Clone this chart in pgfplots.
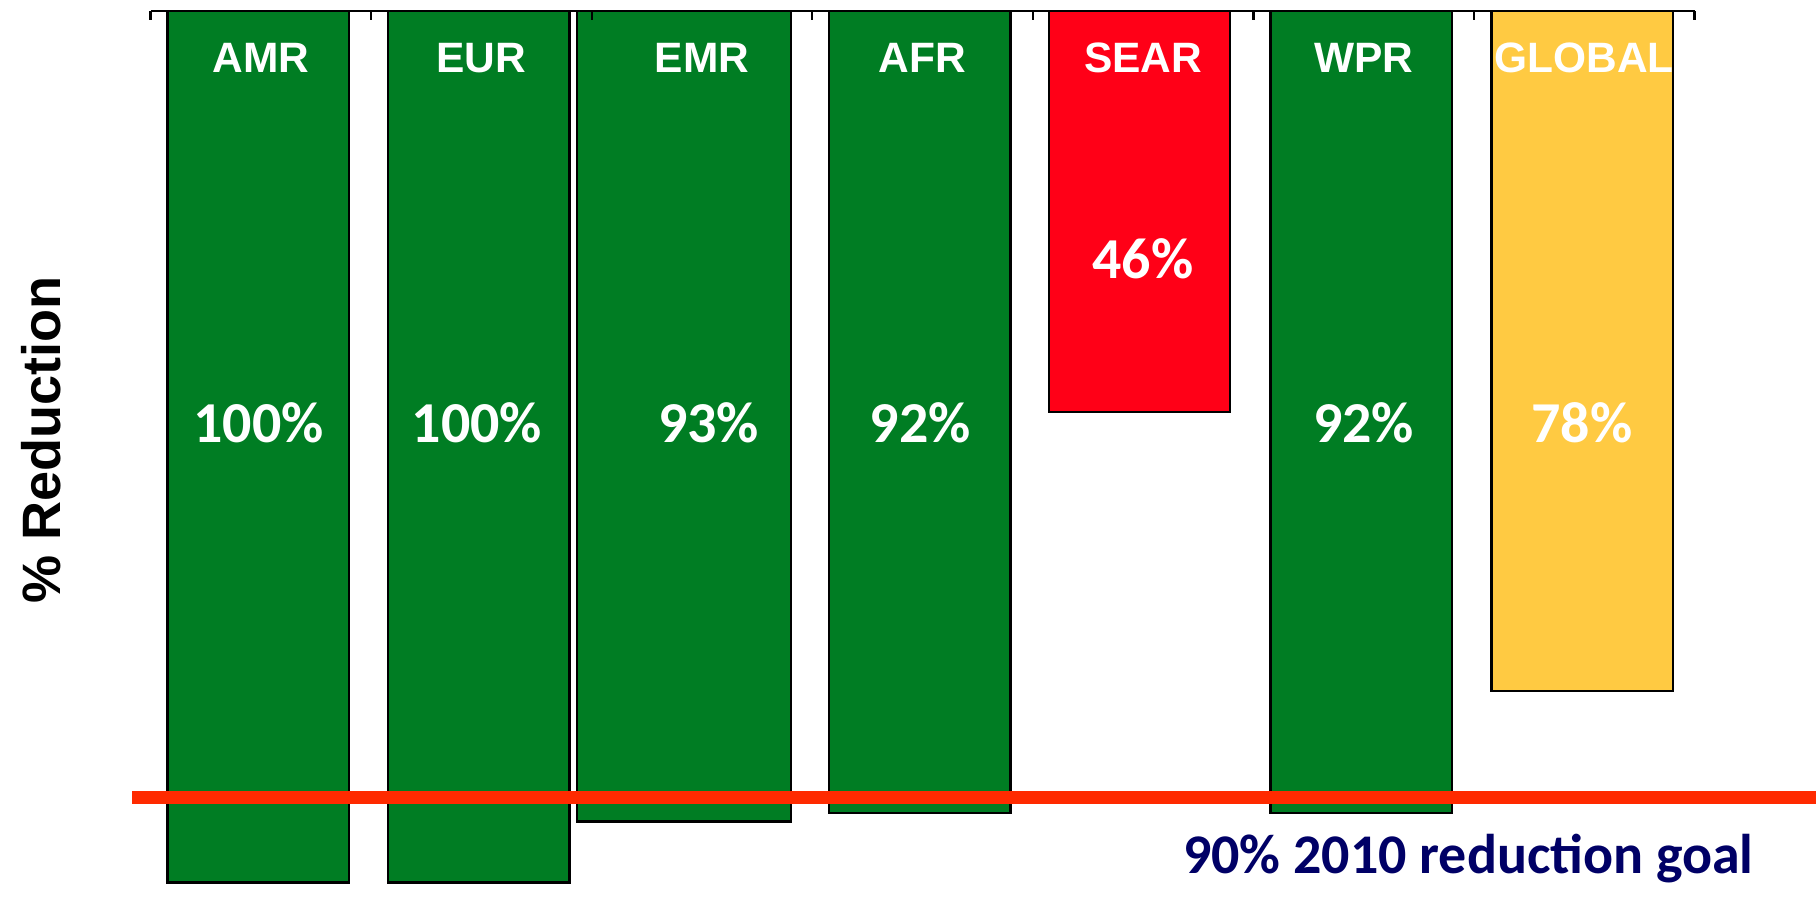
\documentclass[border=0pt]{standalone}
\usepackage{pgfplots}
\pgfplotsset{compat=1.18}
\usepackage{fontspec}
\setmainfont{Liberation Sans}
\newfontfamily\calibri{Carlito}

\definecolor{barGreen}{HTML}{007D23}
\definecolor{barRed}{HTML}{FF0017}
\definecolor{barGold}{HTML}{FFCA42}
\definecolor{goalRed}{HTML}{FF2A00}
\definecolor{goalNavy}{HTML}{000066}

\begin{document}
\begin{tikzpicture}
\begin{axis}[
  scale only axis,
  width=399.9pt, height=231.8pt,
  xmin=-0.5, xmax=6.5,
  ymin=0, ymax=102.7,
  y dir=reverse,
  hide axis,
  bar width=0.822,
  unbounded coords=jump,
  clip=false,
]
% regions: AMR EUR EMR AFR SEAR WPR GLOBAL at x = 0..6
\addplot[ybar, fill=barGreen, draw=black, line width=0.6pt, bar shift=-0.012]
  coordinates {(0,100) (1,100) (3,92) (5,92)};
\addplot[ybar, fill=barGreen, draw=black, line width=0.6pt, bar width=0.971, bar shift=-0.082]
  coordinates {(2,93)};
\addplot[ybar, fill=barRed, draw=black, line width=0.6pt, bar shift=-0.016]
  coordinates {(4,46)};
\addplot[ybar, fill=barGold, draw=black, line width=0.6pt, bar shift=-0.01]
  coordinates {(6,78)};

% top axis line with ticks between the categories
\addplot[black, line width=0.7pt, forget plot]
  coordinates {(-0.5,0) (6.5,0)};
\addplot[black, line width=0.6pt, forget plot]
  coordinates {(-0.5,0) (-0.5,1) (nan,nan) (0.5,0) (0.5,1) (nan,nan)
               (1.5,0) (1.5,1) (nan,nan) (2.5,0) (2.5,1) (nan,nan)
               (3.5,0) (3.5,1) (nan,nan) (4.5,0) (4.5,1) (nan,nan)
               (5.5,0) (5.5,1) (nan,nan) (6.5,0) (6.5,1)};

% 90% goal line
\addplot[goalRed, line width=3.4pt, forget plot]
  coordinates {(-0.584,90.3) (7.051,90.3)};

\begin{scope}[every node/.style={text=white, anchor=base, font=\fontsize{11}{13}\selectfont\bfseries}]
  \node at (axis cs:0,7.1) {AMR};
  \node at (axis cs:1,7.1) {EUR};
  \node at (axis cs:2,7.1) {EMR};
  \node at (axis cs:3,7.1) {AFR};
  \node at (axis cs:4,7.1) {SEAR};
  \node at (axis cs:5,7.1) {WPR};
  \node at (axis cs:6,7.1) {GLOBAL};
\end{scope}

\begin{scope}[every node/.style={text=white, anchor=base, font=\calibri\fontsize{15}{18}\selectfont\bfseries}]
  \node at (axis cs:-0.01,49.5) {100\%};
  \node at (axis cs:0.98,49.5) {100\%};
  \node at (axis cs:2.03,49.5) {93\%};
  \node at (axis cs:2.99,49.5) {92\%};
  \node at (axis cs:4,30.7) {46\%};
  \node at (axis cs:5,49.5) {92\%};
  \node at (axis cs:5.99,49.5) {78\%};
\end{scope}

\node[anchor=base west, text=goalNavy, font=\calibri\fontsize{14.5}{17}\selectfont\bfseries]
  at (axis cs:4.12,98.94) {90\% 2010 reduction goal};

\node[rotate=90, anchor=center, font=\fontsize{14}{16}\selectfont\bfseries]
  at (axis cs:-0.994,49.2) {\% Reduction};

\coordinate (bbA) at (axis cs:-1.1827,102.66);
\coordinate (bbB) at (axis cs:7.051,-1.262);
\end{axis}
\pgfresetboundingbox
\useasboundingbox (bbA) rectangle (bbB);
\end{tikzpicture}
\end{document}
